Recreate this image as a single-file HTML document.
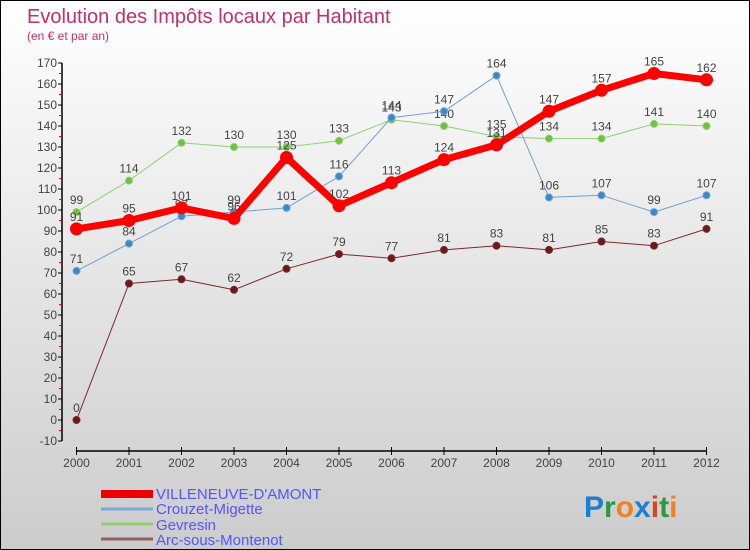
<!DOCTYPE html>
<html><head><meta charset="utf-8">
<style>
body{margin:0;}
#c{width:748px;height:548px;border:1px solid #000;background:linear-gradient(#fff,#ccc);position:relative;overflow:hidden;font-family:"Liberation Sans",sans-serif;}
svg text{font-family:"Liberation Sans",sans-serif;}
</style></head><body>
<div id="c">
<svg id="s" width="748" height="548">
<text x="26" y="22" font-size="20" fill="#c0306a">Evolution des Impôts locaux par Habitant</text>
<text x="26" y="39" font-size="12" fill="#c0306a">(en € et par an)</text>
<g id="axes"></g><g id="series"></g>
<g>
<rect x="100" y="489" width="52" height="8" fill="#e00"/>
<text x="155" y="498" font-size="15" fill="#55f">VILLENEUVE-D'AMONT</text>
<line x1="100" x2="152" y1="508" y2="508" stroke="#7aa8d8" stroke-width="3"/>
<text x="155" y="513" font-size="15" fill="#55f">Crouzet-Migette</text>
<line x1="100" x2="152" y1="523" y2="523" stroke="#90d070" stroke-width="3"/>
<text x="155" y="529" font-size="15" fill="#55f">Gevresin</text>
<line x1="100" x2="152" y1="538" y2="538" stroke="#906060" stroke-width="3"/>
<text x="155" y="544" font-size="15" fill="#55f">Arc-sous-Montenot</text>
</g>
<text x="583" y="516" font-size="30" font-weight="bold"><tspan fill="#1a7fd0">P</tspan><tspan fill="#2a9a40">r</tspan><tspan fill="#f08020">o</tspan><tspan fill="#1a7fd0">x</tspan><tspan fill="#e04020">i</tspan><tspan fill="#2a9a40">t</tspan><tspan fill="#f08020">i</tspan></text>
</svg></div>
<script>
const years=[2000,2001,2002,2003,2004,2005,2006,2007,2008,2009,2010,2011,2012];
const villeneuve=[91,95,101,96,125,102,113,124,131,147,157,165,162];
const crouzet=[71,84,97,99,101,116,144,147,164,106,107,99,107];
const gevresin=[99,114,132,130,130,133,143,140,135,134,134,141,140];
const arc=[0,65,67,62,72,79,77,81,83,81,85,83,91];
const yTicks=[-10,0,10,20,30,40,50,60,70,80,90,100,110,120,130,140,150,160,170];
const NS="http://www.w3.org/2000/svg";
const xS=i=>75.5+i*(705.5-75.5)/(years.length-1);
const yS=v=>419-v*2.1;
function mk(t,a,p){const e=document.createElementNS(NS,t);for(const k in a)e.setAttribute(k,a[k]);p.appendChild(e);return e;}
const ax=document.getElementById('axes'),sg=document.getElementById('series');
const yl=mk('line',{x1:61,x2:61,y1:yS(170),y2:yS(-10),stroke:'#000','stroke-width':1.5},ax);

yTicks.forEach(v=>{
 const t=mk('line',{x1:57,x2:61,y1:yS(v),y2:yS(v),stroke:'#000'},ax);
 
 if(v<170){const m=mk('line',{x1:58,x2:61,y1:yS(v+5),y2:yS(v+5),stroke:'#e00'},ax);
 }
 const l=mk('text',{x:56,y:yS(v)+4,'font-size':12,fill:'#444','text-anchor':'end'},ax);l.textContent=v;
 
});
const xl=mk('line',{x1:75,x2:706,y1:450,y2:450,stroke:'#000','stroke-width':1.5},ax);

years.forEach((y,i)=>{
 const t=mk('line',{x1:xS(i),x2:xS(i),y1:446,y2:454,stroke:'#000'},ax);
 
 const l=mk('text',{x:xS(i),y:466,'font-size':12,fill:'#444','text-anchor':'middle'},ax);l.textContent=y;
 
});
function series(vals,color,dot,w,r,name){
 const g=mk('g',{},sg);
 const p=mk('polyline',{points:vals.map((v,i)=>xS(i)+','+yS(v)).join(' '),fill:'none',stroke:color,'stroke-width':w,'stroke-linejoin':'round'},g);
 
 vals.forEach((v,i)=>{
  const c=mk('circle',{cx:xS(i),cy:yS(v),r:r,fill:dot,stroke:color,'stroke-width':1},g);
  
  const l=mk('text',{x:xS(i),y:yS(v)-8,'font-size':12,fill:'#444','text-anchor':'middle'},g);l.textContent=v;
  
 });
}
series(arc,'#7a2a2a','#6a1a1a',1,3.5,'arc');
series(gevresin,'#90d070','#70c040',1,3.5,'gevresin');
series(crouzet,'#70a0d0','#3a88c8',1,3.5,'crouzet');
series(villeneuve,'#f00','#f00',7,6,'villeneuve');
</script>
</body></html>
